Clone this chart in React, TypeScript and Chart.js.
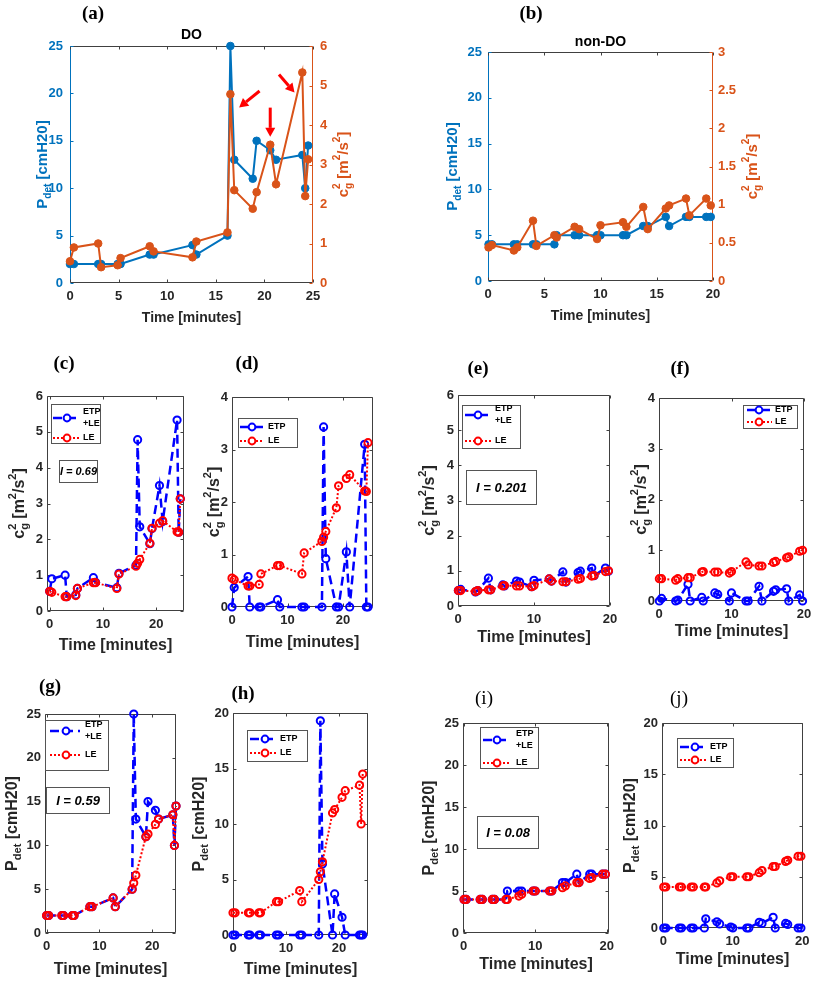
import React, { useEffect, useRef } from 'react';
import { Chart, registerables } from 'chart.js';
Chart.register(...registerables);

const FONT = '"Liberation Sans", Arial, Helvetica, sans-serif';
const SERIF = '"Liberation Serif", "Times New Roman", serif';

// ---------------- DATA ----------------
// DO patient (panels a, c, d, g, h)
const doTime = [0, 0.4, 2.9, 3.2, 4.9, 5.2, 8.2, 8.6, 12.6, 13.0, 16.2, 16.5, 16.9, 18.8, 19.2, 20.6, 21.2, 23.9, 24.2, 24.5];
const doPdet = [2, 2, 2, 2, 2, 2, 3, 3, 4, 3, 5, 25, 13, 11, 15, 14, 13, 13.5, 10, 14.5];
const doC2 = [0.55, 0.9, 1.0, 0.4, 0.45, 0.63, 0.93, 0.8, 0.65, 1.05, 1.28, 4.78, 2.35, 1.88, 2.3, 3.5, 2.5, 5.33, 2.2, 3.13];
const doC2LE = [0.55, 0.52, 0.4, 0.4, 0.43, 0.63, 0.79, 0.79, 0.63, 1.03, 1.25, 1.33, 1.44, 1.89, 2.31, 2.45, 2.52, 2.21, 2.2, 3.13];
const doC2ETP = [0, 0.37, 0.58, 0, 0, 0, 0.14, 0, 0, 0, 0, 3.43, 0.92, 0, 0, 1.05, 0, 3.1, 0, 0];
const doPdetLE = [2, 2, 2, 2, 2, 2, 3, 3, 4, 3, 5, 5.7, 6.6, 11, 11.3, 12.4, 13, 13.5, 10, 14.5];
const doPdetETP = [0, 0, 0, 0, 0, 0, 0, 0, 0, 0, 0, 19.3, 6.4, 0, 3.7, 1.6, 0, 0, 0, 0];

// non-DO patient (panels b, e, f, i, j)
const ndTime = [0.05, 0.35, 2.3, 2.6, 4.0, 4.3, 5.9, 6.1, 7.7, 8.1, 9.7, 10.0, 12.0, 12.3, 13.8, 14.2, 15.8, 16.1, 17.6, 17.9, 19.4, 19.8];
const ndPdet = [4, 4, 4, 4, 4, 4, 4, 5, 5, 5, 5, 5, 5, 5, 6, 6, 7, 6, 7, 7, 7, 7];
const ndC2 = [0.44, 0.47, 0.40, 0.44, 0.79, 0.46, 0.60, 0.57, 0.71, 0.68, 0.55, 0.73, 0.77, 0.71, 0.97, 0.68, 0.95, 0.99, 1.08, 0.86, 1.08, 0.99];
const ndC2LE = [0.44, 0.44, 0.41, 0.44, 0.46, 0.46, 0.57, 0.58, 0.57, 0.57, 0.55, 0.58, 0.77, 0.71, 0.69, 0.69, 0.76, 0.78, 0.85, 0.87, 0.98, 1.0];
const ndC2ETP = [0, 0.05, 0, 0.02, 0.33, 0, 0.07, 0, 0.16, 0.13, 0, 0.16, 0, 0, 0.29, 0, 0.19, 0.22, 0.24, 0, 0.12, 0];
const ndPdetLE = [4, 4, 4, 4, 4, 4, 4, 4, 4.4, 4.6, 5, 5, 5, 5, 5.4, 5.6, 6, 6, 6.5, 6.6, 7, 7];
const ndPdetETP = [0, 0, 0, 0, 0, 0, 0, 0.9, 0.6, 0.4, 0.1, 0, 0, 0, 0.55, 0.45, 1.05, 0, 0.45, 0.35, 0, 0];

// red arrows in panel (a), in data units (x: minutes, y: right axis c^2)
const arrowTailX = [19.5, 20.6, 21.5];
const arrowTailY = [4.86, 4.44, 5.28];
const arrowTipX = [17.4, 20.6, 23.1];
const arrowTipY = [4.44, 3.7, 4.82];

// tick values
const ticksX25 = [0, 5, 10, 15, 20, 25];
const ticksX20 = [0, 5, 10, 15, 20];
const ticksX10 = [0, 10, 20];
const ticksP25 = [0, 5, 10, 15, 20, 25];
const ticksP20 = [0, 5, 10, 15, 20];
const ticksC6 = [0, 1, 2, 3, 4, 5, 6];
const ticksC4 = [0, 1, 2, 3, 4];
const ticksC3 = [0, 0.5, 1, 1.5, 2, 2.5, 3];

// ---------------- STYLE ----------------
const M_BLUE = '#0072BD';
const M_ORANGE = '#D95319';
const BLUE = '#0000FF';
const RED = '#FF0000';
const DARK = '#262626';

type Seg = { t?: string; sub?: string; sup?: string };
const pdetSegs: Seg[] = [{ t: 'P' }, { sub: 'det' }, { t: ' [cmH20]' }];
const c2Segs: Seg[] = [{ t: 'c' }, { sub: 'g', sup: '2' }, { t: ' [m' }, { sup: '2' }, { t: '/s' }, { sup: '2' }, { t: ']' }];

interface Series {
  x: number[]; y: number[]; color: string; width: number; dash: number[];
  r: number; pbw: number; filled: boolean; axis: string; order: number;
}
interface Legend {
  box: [number, number, number, number]; sx: [number, number]; mx: number; tx: number;
  ys: number[]; labels: string[][];
}
interface Panel {
  key: string; label: string; labelPos: [number, number]; labelBold: boolean;
  plot: [number, number, number, number];
  xRange: [number, number]; xTicks: number[];
  yRange: [number, number]; yTicks: number[];
  y1Range?: [number, number]; y1Ticks?: number[];
  series: Series[];
  yTitle: { segs: Seg[]; dx: number; color: string; size: number };
  y1Title?: { segs: Seg[]; dx: number; color: string; size: number };
  xTitle: { dy: number; size: number };
  topTitle?: { text: string; dy: number };
  yColor: string; y1Color?: string; yPad: number; y1Pad?: number;
  leftC: string; rightC: string; boxC: string;
  legend?: Legend;
  ibox?: { text: string; rect: [number, number, number, number]; size: number };
  arrows?: boolean;
}

const etp = (x: number[], y: number[]): Series => ({ x, y, color: BLUE, width: 2.5, dash: [9, 5], r: 3.6, pbw: 2, filled: false, axis: 'y', order: 1 });
const le = (x: number[], y: number[]): Series => ({ x, y, color: RED, width: 2, dash: [2, 2], r: 3.6, pbw: 2, filled: false, axis: 'y', order: 0 });

const small = (o: any): Panel => ({
  labelBold: true, yColor: DARK, yPad: 4, leftC: '#404040', rightC: '#404040', boxC: '#404040', ...o,
} as Panel);

const PANELS: Panel[] = [
  {
    key: 'a', label: '(a)', labelPos: [93, 12], labelBold: true,
    plot: [70, 46, 313, 283], xRange: [0, 25], xTicks: ticksX25,
    yRange: [0, 25], yTicks: ticksP25, y1Range: [0, 6], y1Ticks: ticksC6,
    series: [
      { x: doTime, y: doPdet, color: M_BLUE, width: 2, dash: [], r: 3.8, pbw: 1, filled: true, axis: 'y', order: 1 },
      { x: doTime, y: doC2, color: M_ORANGE, width: 2, dash: [], r: 3.8, pbw: 1, filled: true, axis: 'y1', order: 0 },
    ],
    yTitle: { segs: pdetSegs, dx: -27, color: M_BLUE, size: 15 },
    y1Title: { segs: c2Segs, dx: 31, color: M_ORANGE, size: 15 },
    xTitle: { dy: 35, size: 14 }, topTitle: { text: 'DO', dy: -11 },
    yColor: M_BLUE, y1Color: M_ORANGE, yPad: 7, y1Pad: 7,
    leftC: M_BLUE, rightC: M_ORANGE, boxC: '#404040', arrows: true,
  },
  {
    key: 'b', label: '(b)', labelPos: [531, 12], labelBold: true,
    plot: [488, 52, 713, 281], xRange: [0, 20], xTicks: ticksX20,
    yRange: [0, 25], yTicks: ticksP25, y1Range: [0, 3], y1Ticks: ticksC3,
    series: [
      { x: ndTime, y: ndPdet, color: M_BLUE, width: 2, dash: [], r: 3.8, pbw: 1, filled: true, axis: 'y', order: 1 },
      { x: ndTime, y: ndC2, color: M_ORANGE, width: 2, dash: [], r: 3.8, pbw: 1, filled: true, axis: 'y1', order: 0 },
    ],
    yTitle: { segs: pdetSegs, dx: -35, color: M_BLUE, size: 15 },
    y1Title: { segs: c2Segs, dx: 40, color: M_ORANGE, size: 15 },
    xTitle: { dy: 35, size: 14 }, topTitle: { text: 'non-DO', dy: -10 },
    yColor: M_BLUE, y1Color: M_ORANGE, yPad: 6, y1Pad: 5,
    leftC: M_BLUE, rightC: M_ORANGE, boxC: '#404040',
  },
  small({
    key: 'c', label: '(c)', labelPos: [64, 362],
    plot: [47, 396, 184, 611], xRange: [-0.5, 25.2], xTicks: ticksX10, yRange: [0, 6], yTicks: ticksC6,
    series: [etp(doTime, doC2), le(doTime, doC2LE)],
    yTitle: { segs: c2Segs, dx: -27, color: DARK, size: 16 }, xTitle: { dy: 35, size: 16 },
    legend: { box: [4, 8, 49, 39], sx: [6, 33], mx: 20, tx: 36, ys: [22, 42], labels: [['ETP', '+LE'], ['LE']] },
    ibox: { text: 'I = 0.69', rect: [12, 64, 38, 22], size: 11 },
  }),
  small({
    key: 'd', label: '(d)', labelPos: [247, 362],
    plot: [232, 397, 373, 607], xRange: [0, 25.4], xTicks: ticksX10, yRange: [0, 4], yTicks: ticksC4,
    series: [etp(doTime, doC2ETP), le(doTime, doC2LE)],
    yTitle: { segs: c2Segs, dx: -17, color: DARK, size: 16 }, xTitle: { dy: 36, size: 16 },
    legend: { box: [6, 21, 59, 29], sx: [8, 31], mx: 20, tx: 36, ys: [30, 44], labels: [['ETP'], ['LE']] },
  }),
  small({
    key: 'e', label: '(e)', labelPos: [478, 367],
    plot: [458, 395, 610, 606], xRange: [0, 20], xTicks: ticksX10, yRange: [0, 6], yTicks: ticksC6,
    series: [etp(ndTime, ndC2), le(ndTime, ndC2LE)],
    yTitle: { segs: c2Segs, dx: -28, color: DARK, size: 16 }, xTitle: { dy: 32, size: 16 },
    legend: { box: [4, 10, 58, 43], sx: [7, 34], mx: 20, tx: 37, ys: [20, 46], labels: [['ETP', '+LE'], ['LE']] },
    ibox: { text: 'I = 0.201', rect: [8, 75, 70, 34], size: 13 },
  }),
  small({
    key: 'f', label: '(f)', labelPos: [680, 367],
    plot: [659, 398, 804, 601], xRange: [0, 20], xTicks: ticksX10, yRange: [0, 4], yTicks: ticksC4,
    series: [etp(ndTime, ndC2ETP), le(ndTime, ndC2LE)],
    yTitle: { segs: c2Segs, dx: -17, color: DARK, size: 16 }, xTitle: { dy: 31, size: 16 },
    legend: { box: [84, 7, 54, 23], sx: [88, 113], mx: 100, tx: 116, ys: [12, 24], labels: [['ETP'], ['LE']] },
  }),
  small({
    key: 'g', label: '(g)', labelPos: [50, 685],
    plot: [45, 714, 176, 933], xRange: [-0.3, 24.5], xTicks: ticksX10, yRange: [0, 25], yTicks: ticksP25,
    series: [etp(doTime, doPdet), le(doTime, doPdetLE)],
    yTitle: { segs: pdetSegs, dx: -32, color: DARK, size: 16 }, xTitle: { dy: 37, size: 16 },
    legend: { box: [0, 6, 63, 50], sx: [5, 35], mx: 21, tx: 40, ys: [17, 41], labels: [['ETP', '+LE'], ['LE']] },
    ibox: { text: 'I = 0.59', rect: [1, 73, 63, 26], size: 13 },
  }),
  small({
    key: 'h', label: '(h)', labelPos: [243, 692],
    plot: [233, 713, 368, 935], xRange: [0, 25.5], xTicks: ticksX10, yRange: [0, 20], yTicks: ticksP20,
    series: [etp(doTime, doPdetETP), le(doTime, doPdetLE)],
    yTitle: { segs: pdetSegs, dx: -33, color: DARK, size: 16 }, xTitle: { dy: 35, size: 16 },
    legend: { box: [14, 17, 60, 31], sx: [17, 44], mx: 32, tx: 47, ys: [26, 40], labels: [['ETP'], ['LE']] },
  }),
  small({
    key: 'i', label: '(i)', labelPos: [484, 697], labelBold: false,
    plot: [463, 723, 609, 933], xRange: [-0.1, 20.3], xTicks: ticksX10, yRange: [0, 25], yTicks: ticksP25,
    series: [etp(ndTime, ndPdet), le(ndTime, ndPdetLE)],
    yTitle: { segs: pdetSegs, dx: -33, color: DARK, size: 16 }, xTitle: { dy: 32, size: 16 },
    legend: { box: [17, 4, 58, 41], sx: [20, 47], mx: 34, tx: 53, ys: [17, 40], labels: [['ETP', '+LE'], ['LE']] },
    ibox: { text: 'I = 0.08', rect: [14, 93, 61, 32], size: 13 },
  }),
  small({
    key: 'j', label: '(j)', labelPos: [679, 697], labelBold: false,
    plot: [662, 723, 803, 928], xRange: [-0.2, 20.1], xTicks: ticksX10, yRange: [0, 20], yTicks: ticksP20,
    series: [etp(ndTime, ndPdetETP), le(ndTime, ndPdetLE)],
    yTitle: { segs: pdetSegs, dx: -31, color: DARK, size: 16 }, xTitle: { dy: 32, size: 16 },
    legend: { box: [15, 15, 56, 29], sx: [18, 45], mx: 33, tx: 48, ys: [24, 37], labels: [['ETP'], ['LE']] },
  }),
];

// ---------------- DRAW HELPERS ----------------
function drawRich(ctx: CanvasRenderingContext2D, segs: Seg[], cx: number, cy: number, size: number, color: string, rotate: boolean) {
  const sm = Math.round(size * 0.68);
  const fB = `bold ${size}px ${FONT}`;
  const fS = `bold ${sm}px ${FONT}`;
  ctx.save();
  const widths = segs.map((s) => {
    if (s.t) { ctx.font = fB; return ctx.measureText(s.t).width; }
    ctx.font = fS;
    return Math.max(s.sub ? ctx.measureText(s.sub).width : 0, s.sup ? ctx.measureText(s.sup).width : 0);
  });
  const total = widths.reduce((a, b) => a + b, 0);
  ctx.translate(cx, cy);
  if (rotate) ctx.rotate(-Math.PI / 2);
  ctx.fillStyle = color;
  ctx.textBaseline = 'middle';
  ctx.textAlign = 'left';
  let x = -total / 2;
  segs.forEach((s, i) => {
    if (s.t) { ctx.font = fB; ctx.fillText(s.t, x, 0); }
    else {
      ctx.font = fS;
      if (s.sub) ctx.fillText(s.sub, x, size * 0.32);
      if (s.sup) ctx.fillText(s.sup, x, -size * 0.42);
    }
    x += widths[i];
  });
  ctx.restore();
}

function overlayPlugin(p: Panel) {
  return {
    id: 'overlay_' + p.key,
    beforeDatasetsDraw(chart: any) {
      const { ctx, chartArea: a } = chart;
      const xs = chart.scales.x, ys = chart.scales.y, y1 = chart.scales.y1;
      ctx.save();
      ctx.lineWidth = 1;
      const seg = (x0: number, yy0: number, x1: number, yy1: number, c: string) => {
        ctx.strokeStyle = c; ctx.beginPath(); ctx.moveTo(x0, yy0); ctx.lineTo(x1, yy1); ctx.stroke();
      };
      const l = Math.round(a.left) + 0.5, r = Math.round(a.right) - 0.5;
      const t = Math.round(a.top) + 0.5, b = Math.round(a.bottom) - 0.5;
      seg(l, t, r, t, p.boxC); seg(l, b, r, b, p.boxC);
      seg(l, t, l, b, p.leftC); seg(r, t, r, b, p.rightC);
      const TL = 3;
      p.xTicks.forEach((v) => {
        const px = Math.round(xs.getPixelForValue(v)) + 0.5;
        seg(px, b, px, b - TL, p.boxC); seg(px, t, px, t + TL, p.boxC);
      });
      p.yTicks.forEach((v) => {
        const py = Math.round(ys.getPixelForValue(v)) + 0.5;
        seg(l, py, l + TL, py, p.leftC);
        if (!y1) seg(r, py, r - TL, py, p.rightC);
      });
      if (y1 && p.y1Ticks) p.y1Ticks.forEach((v) => {
        const py = Math.round(y1.getPixelForValue(v)) + 0.5;
        seg(r, py, r - TL, py, p.rightC);
      });
      ctx.restore();
    },
    afterDatasetsDraw(chart: any) {
      const { ctx, chartArea: a } = chart;
      const xs = chart.scales.x, y1 = chart.scales.y1;
      const midY = (a.top + a.bottom) / 2, midX = (a.left + a.right) / 2;
      drawRich(ctx, p.yTitle.segs, a.left + p.yTitle.dx, midY, p.yTitle.size, p.yTitle.color, true);
      if (p.y1Title) drawRich(ctx, p.y1Title.segs, a.right + p.y1Title.dx, midY, p.y1Title.size, p.y1Title.color, true);
      ctx.save();
      ctx.fillStyle = DARK; ctx.textAlign = 'center'; ctx.textBaseline = 'middle';
      ctx.font = `bold ${p.xTitle.size}px ${FONT}`;
      ctx.fillText('Time [minutes]', midX, a.bottom + p.xTitle.dy);
      if (p.topTitle) {
        ctx.fillStyle = '#000'; ctx.font = `bold 14px ${FONT}`;
        ctx.fillText(p.topTitle.text, midX, a.top + p.topTitle.dy);
      }
      ctx.restore();
      if (p.arrows && y1) {
        ctx.save();
        ctx.strokeStyle = RED; ctx.fillStyle = RED; ctx.lineWidth = 3;
        arrowTailX.forEach((_, i) => {
          const x0 = xs.getPixelForValue(arrowTailX[i]), yA = y1.getPixelForValue(arrowTailY[i]);
          const x1 = xs.getPixelForValue(arrowTipX[i]), yB = y1.getPixelForValue(arrowTipY[i]);
          const ang = Math.atan2(yB - yA, x1 - x0);
          const hl = 9, hw = 5;
          const bx = x1 - hl * Math.cos(ang), by = yB - hl * Math.sin(ang);
          ctx.beginPath(); ctx.moveTo(x0, yA); ctx.lineTo(bx, by); ctx.stroke();
          ctx.beginPath();
          ctx.moveTo(x1, yB);
          ctx.lineTo(bx + hw * Math.sin(ang), by - hw * Math.cos(ang));
          ctx.lineTo(bx - hw * Math.sin(ang), by + hw * Math.cos(ang));
          ctx.closePath(); ctx.fill();
        });
        ctx.restore();
      }
      if (p.legend) {
        const lg = p.legend;
        ctx.save();
        const bx = Math.round(a.left + lg.box[0]) + 0.5, by = Math.round(a.top + lg.box[1]) + 0.5;
        ctx.fillStyle = '#fff'; ctx.fillRect(bx, by, lg.box[2], lg.box[3]);
        ctx.strokeStyle = '#555'; ctx.lineWidth = 1; ctx.strokeRect(bx, by, lg.box[2], lg.box[3]);
        p.series.forEach((s, i) => {
          const y = a.top + lg.ys[i];
          ctx.setLineDash(s.dash); ctx.strokeStyle = s.color; ctx.lineWidth = s.width;
          ctx.beginPath(); ctx.moveTo(a.left + lg.sx[0], y); ctx.lineTo(a.left + lg.sx[1], y); ctx.stroke();
          ctx.setLineDash([]); ctx.lineWidth = 2;
          ctx.fillStyle = '#fff';
          ctx.beginPath(); ctx.arc(a.left + lg.mx, y, 3.4, 0, Math.PI * 2); ctx.fill(); ctx.stroke();
          ctx.fillStyle = '#000'; ctx.font = `bold 9px ${FONT}`;
          ctx.textAlign = 'left'; ctx.textBaseline = 'middle';
          const lines = lg.labels[i];
          if (lines.length === 1) ctx.fillText(lines[0], a.left + lg.tx, y);
          else { ctx.fillText(lines[0], a.left + lg.tx, y - 6); ctx.fillText(lines[1], a.left + lg.tx, y + 6); }
        });
        ctx.restore();
      }
      if (p.ibox) {
        const ib = p.ibox;
        ctx.save();
        const bx = Math.round(a.left + ib.rect[0]) + 0.5, by = Math.round(a.top + ib.rect[1]) + 0.5;
        ctx.fillStyle = '#fff'; ctx.fillRect(bx, by, ib.rect[2], ib.rect[3]);
        ctx.strokeStyle = '#555'; ctx.lineWidth = 1; ctx.strokeRect(bx, by, ib.rect[2], ib.rect[3]);
        ctx.fillStyle = '#000'; ctx.font = `italic bold ${ib.size}px ${FONT}`;
        ctx.textAlign = 'center'; ctx.textBaseline = 'middle';
        ctx.fillText(ib.text, bx + ib.rect[2] / 2, by + ib.rect[3] / 2 + 0.5);
        ctx.restore();
      }
    },
  };
}

const tickFont = { family: FONT, size: 13, weight: 'bold' as const };

function buildConfig(p: Panel, ML: number, MT: number, MR: number, MB: number): any {
  const hasR = !!p.y1Range;
  const datasets = p.series.map((s, i) => ({
    label: 's' + i,
    data: s.x.map((x, k) => ({ x, y: s.y[k] })),
    borderColor: s.color,
    backgroundColor: s.filled ? s.color : 'rgba(0,0,0,0)',
    borderWidth: s.width,
    borderDash: s.dash,
    pointRadius: s.r,
    pointBorderWidth: s.pbw,
    pointBackgroundColor: s.filled ? s.color : 'rgba(0,0,0,0)',
    pointBorderColor: s.color,
    pointHoverRadius: s.r,
    tension: 0,
    fill: false,
    yAxisID: s.axis,
    order: s.order,
    clip: 8,
  }));
  const scale = (range: [number, number], ticks: number[], color: string, pos: string, pad: number, fit: (s: any) => void) => ({
    type: 'linear', position: pos, min: range[0], max: range[1],
    grid: { display: false, drawTicks: false }, border: { display: false },
    ticks: {
      color, font: tickFont, padding: pad, autoSkip: false, maxRotation: 0, includeBounds: false,
      callback: (v: number) => String(Math.round(v * 100) / 100),
    },
    afterBuildTicks: (s: any) => { s.ticks = ticks.map((v) => ({ value: v })); },
    afterFit: fit,
  });
  const scales: any = {
    x: scale(p.xRange, p.xTicks, DARK, 'bottom', 6, (s: any) => { s.height = MB; }),
    y: scale(p.yRange, p.yTicks, p.yColor, 'left', p.yPad, (s: any) => { s.width = ML; }),
  };
  if (hasR) scales.y1 = scale(p.y1Range!, p.y1Ticks!, p.y1Color!, 'right', p.y1Pad!, (s: any) => { s.width = MR; });
  return {
    type: 'line',
    data: { datasets },
    options: {
      responsive: false,
      animation: false,
      devicePixelRatio: 1,
      events: [],
      layout: { padding: { left: 0, top: MT, right: hasR ? 0 : MR, bottom: 0 } },
      plugins: { legend: { display: false }, tooltip: { enabled: false }, title: { display: false } },
      scales,
    },
    plugins: [overlayPlugin(p)],
  };
}

function PanelChart({ p }: { p: Panel }) {
  const ref = useRef<HTMLCanvasElement>(null);
  const [L, T, R, B] = p.plot;
  const hasR = !!p.y1Range;
  const ML = 70, MT = 30, MR = hasR ? 60 : 20, MB = 50;
  const w = R - L + ML + MR, h = B - T + MT + MB;
  useEffect(() => {
    if (!ref.current) return;
    const chart = new Chart(ref.current, buildConfig(p, ML, MT, MR, MB));
    return () => chart.destroy();
  }, []);
  return (
    <canvas ref={ref} width={w} height={h}
      style={{ position: 'absolute', left: L - ML, top: T - MT, width: w, height: h }} />
  );
}

export default function App() {
  return (
    <div style={{ position: 'absolute', left: 0, top: 0, width: 813, height: 981, background: '#fff', overflow: 'hidden' }}>
      {PANELS.map((p) => <PanelChart key={p.key} p={p} />)}
      {PANELS.map((p) => (
        <div key={'lab' + p.key} style={{
          position: 'absolute', left: p.labelPos[0], top: p.labelPos[1], transform: 'translate(-50%, -50%)',
          font: `${p.labelBold ? 'bold' : 'normal'} 19px ${SERIF}`, color: '#000', whiteSpace: 'nowrap', lineHeight: 1,
        }}>{p.label}</div>
      ))}
    </div>
  );
}
